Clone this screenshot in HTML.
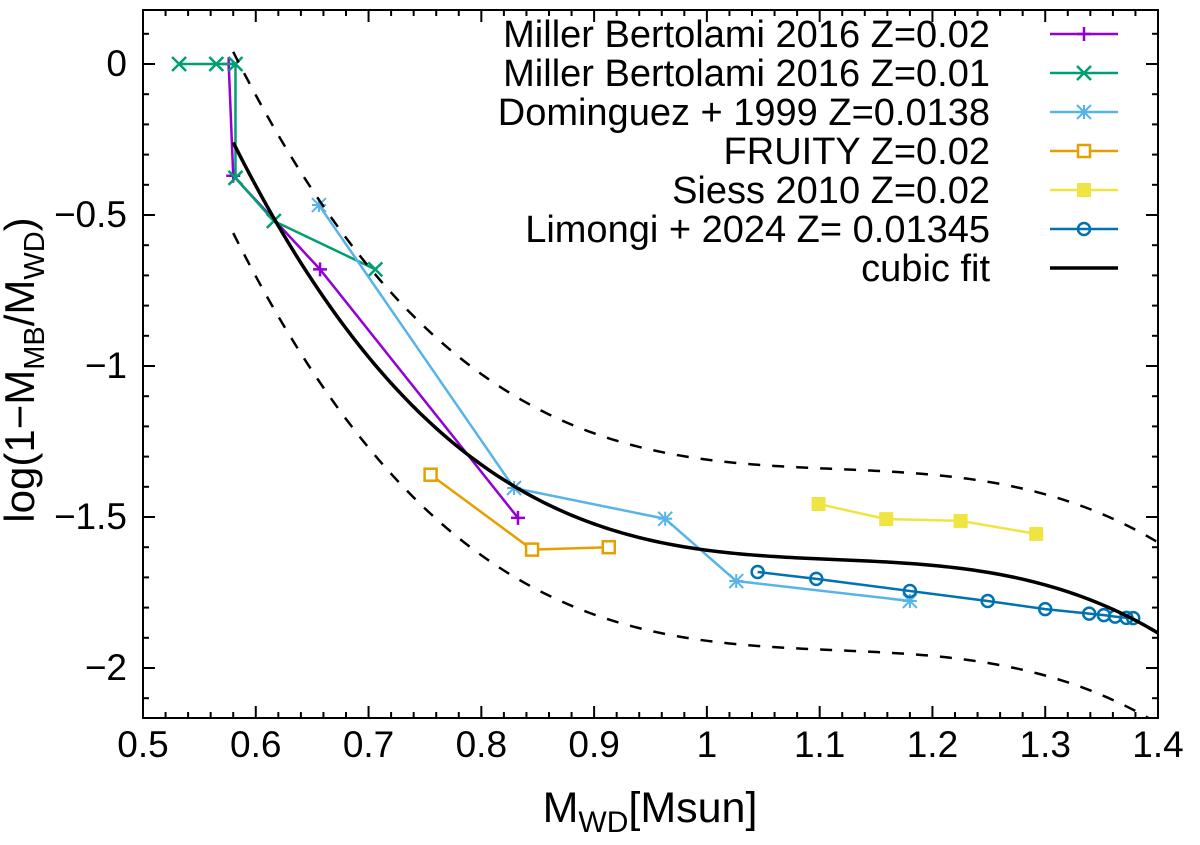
<!DOCTYPE html>
<html><head><meta charset="utf-8"><style>
body{margin:0;background:#fff}
svg text{font-family:"Liberation Sans",sans-serif;fill:#000}
</style></head><body>
<svg id="chart" width="1200" height="840" xmlns="http://www.w3.org/2000/svg">
<g id="axes"></g>
<g id="series"></g>
<g id="legend"></g>
<text x="650" y="822" font-size="43" text-anchor="middle">M<tspan font-size="30" dy="10">WD</tspan><tspan dy="-10">[Msun]</tspan></text>
<text transform="translate(34,370) rotate(-90)" font-size="42" text-anchor="middle">log(1−M<tspan font-size="29" dy="10">MB</tspan><tspan dy="-10">/M</tspan><tspan font-size="29" dy="10">WD</tspan><tspan dy="-10">)</tspan></text>
</svg>
<script>
const xTicks=[0.5,0.6,0.7,0.8,0.9,1,1.1,1.2,1.3,1.4];
const xTickLabels=["0.5","0.6","0.7","0.8","0.9","1","1.1","1.2","1.3","1.4"];
const yTicks=[0,-0.5,-1,-1.5,-2];
const yTickLabels=["0","−0.5","−1","−1.5","−2"];
const mb02X=[0.576,0.58,0.657,0.8325];
const mb02Y=[0,-0.37,-0.68,-1.503];
const mb01X=[0.532,0.565,0.582,0.582,0.616,0.706];
const mb01Y=[0,0,0,-0.377,-0.52,-0.68];
const domX=[0.656,0.829,0.963,1.026,1.18];
const domY=[-0.467,-1.404,-1.506,-1.712,-1.778];
const fruX=[0.755,0.845,0.913];
const fruY=[-1.36,-1.608,-1.6];
const siessX=[1.099,1.159,1.225,1.292];
const siessY=[-1.457,-1.507,-1.513,-1.556];
const limX=[1.045,1.097,1.18,1.249,1.30,1.339,1.352,1.362,1.372,1.378];
const limY=[-1.682,-1.705,-1.745,-1.778,-1.805,-1.82,-1.825,-1.83,-1.834,-1.835];
const fitCoef=[-1.61,-0.494,2.915,-8.483]; // in t = x-1
const fitBand=0.3;
const fitRange=[0.58,1.4];

const L=143,R=1158,T=10,B=718;
const xs=v=>L+(v-0.5)/0.9*(R-L);
const ys=v=>64+(-v)*302;
const NS="http://www.w3.org/2000/svg";
function mk(tag,attrs,parent){const e=document.createElementNS(NS,tag);for(const k in attrs)e.setAttribute(k,attrs[k]);parent.appendChild(e);return e;}
const axes=document.getElementById('axes'),ser=document.getElementById('series'),leg=document.getElementById('legend');
const defs=mk('defs',{},ser);const cp=mk('clipPath',{id:'clip'},defs);mk('rect',{x:L,y:T,width:R-L,height:B-T},cp);
for(let i=0;i<=45;i++){const v=0.5+i*0.02;const x=xs(v);const major=i%5===0;const len=major?12:6;
 const t1=mk('line',{x1:x,x2:x,y1:B,y2:B-len,stroke:'#000','stroke-width':2},axes);
 
 mk('line',{x1:x,x2:x,y1:T,y2:T+len,stroke:'#000','stroke-width':2},axes);}
xTicks.forEach((v,i)=>{const t=mk('text',{x:xs(v),y:757,'font-size':37,'text-anchor':'middle'},axes);t.textContent=xTickLabels[i];
 });
for(let i=-21;i<=1;i++){const v=i*0.1;const y=ys(v);const major=i%5===0;const len=major?12:6;
 mk('line',{x1:L,x2:L+len,y1:y,y2:y,stroke:'#000','stroke-width':2},axes);
 mk('line',{x1:R,x2:R-len,y1:y,y2:y,stroke:'#000','stroke-width':2},axes);}
yTicks.forEach((v,i)=>{const t=mk('text',{x:L-16,y:ys(v)+12,'font-size':37,'text-anchor':'end'},axes);t.textContent=yTickLabels[i];
 });
const fr=mk('rect',{x:L,y:T,width:R-L,height:B-T,fill:'none',stroke:'#000','stroke-width':2},axes);


function marker(g,type,x,y,c){
 const s=7;
 if(type==='plus'){mk('path',{d:`M${x-s} ${y}H${x+s}M${x} ${y-s}V${y+s}`,stroke:c,'stroke-width':2.5},g);}
 else if(type==='x'){mk('path',{d:`M${x-s} ${y-s}L${x+s} ${y+s}M${x-s} ${y+s}L${x+s} ${y-s}`,stroke:c,'stroke-width':2.5},g);}
 else if(type==='star'){mk('path',{d:`M${x-s} ${y}H${x+s}M${x} ${y-s}V${y+s}M${x-s} ${y-s}L${x+s} ${y+s}M${x-s} ${y+s}L${x+s} ${y-s}`,stroke:c,'stroke-width':2},g);}
 else if(type==='osq'){mk('rect',{x:x-6,y:y-6,width:12,height:12,fill:'#fff',stroke:c,'stroke-width':2.5},g);}
 else if(type==='fsq'){mk('rect',{x:x-7,y:y-7,width:14,height:14,fill:c},g);}
 else if(type==='oc'){mk('circle',{cx:x,cy:y,r:6,fill:'none',stroke:c,'stroke-width':2.5},g);}
}
function series(name,X,Y,c,type){
 const g=mk('g',{},ser);
 mk('polyline',{points:X.map((v,i)=>xs(v)+','+ys(Y[i])).join(' '),fill:'none',stroke:c,'stroke-width':2.5},g);
 X.forEach((v,i)=>marker(g,type,xs(v),ys(Y[i]),c));
}
function fit(x){const t=x-1;return fitCoef[0]+fitCoef[1]*t+fitCoef[2]*t*t+fitCoef[3]*t*t*t;}
function curve(off,dash,name){const pts=[];for(let x=fitRange[0];x<=fitRange[1]+1e-9;x+=0.005)pts.push(xs(x)+','+ys(fit(x)+off));
 const p=mk('polyline',{points:pts.join(' '),fill:'none',stroke:'#000','stroke-width':dash?2.5:3.5,'clip-path':'url(#clip)'},ser);
 if(dash)p.setAttribute('stroke-dasharray','12,12');
 }
series('miller-bertolami-z002',mb02X,mb02Y,'#9400d3','plus');
series('miller-bertolami-z001',mb01X,mb01Y,'#009e73','x');
series('dominguez-1999',domX,domY,'#56b4e9','star');
series('fruity',fruX,fruY,'#e69f00','osq');
series('siess-2010',siessX,siessY,'#f0e442','fsq');
series('limongi-2024',limX,limY,'#0072b2','oc');
curve(0,false,'cubic-fit-line');curve(fitBand,true,'upper-band');curve(-fitBand,true,'lower-band');
const legItems=[["Miller Bertolami 2016 Z=0.02",'#9400d3','plus'],["Miller Bertolami 2016 Z=0.01",'#009e73','x'],["Dominguez + 1999 Z=0.0138",'#56b4e9','star'],["FRUITY Z=0.02",'#e69f00','osq'],["Siess 2010 Z=0.02",'#f0e442','fsq'],["Limongi + 2024 Z= 0.01345",'#0072b2','oc'],["cubic fit",'#000','none']];
legItems.forEach((it,i)=>{const y=34+i*39;const g=mk('g',{},leg);
 
 const t=mk('text',{x:990,y:y+13,'font-size':38,'text-anchor':'end'},g);t.textContent=it[0];
 mk('line',{x1:1050,x2:1118,y1:y,y2:y,stroke:it[1],'stroke-width':it[2]==='none'?3.5:2.5},g);
 if(it[2]!=='none')marker(g,it[2],1084,y,it[1]);});
</script>
</body></html>
